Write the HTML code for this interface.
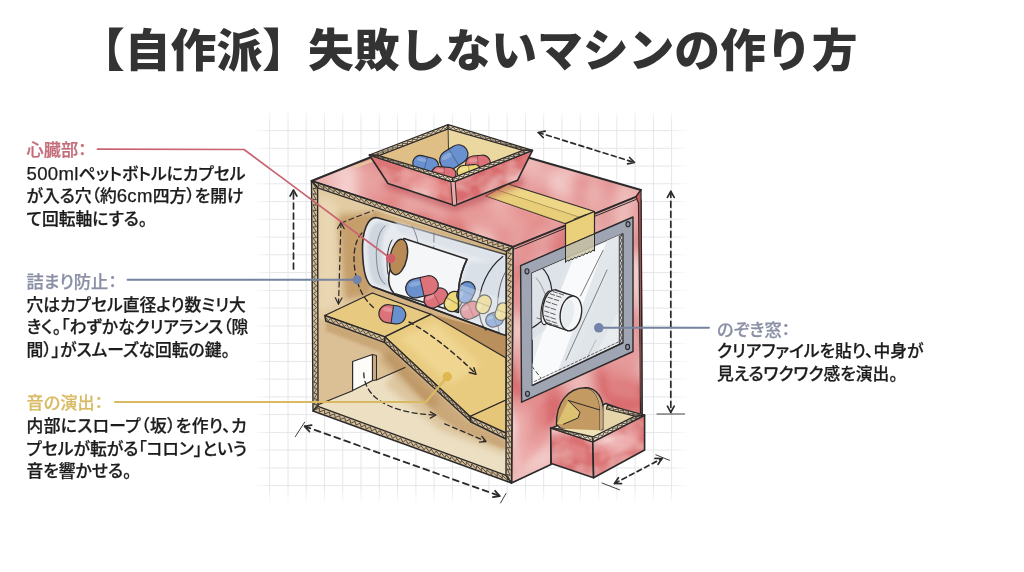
<!DOCTYPE html>
<html lang="ja">
<head>
<meta charset="utf-8">
<title>【自作派】失敗しないマシンの作り方</title>
<style>
html,body{margin:0;padding:0;}
body{width:1024px;height:572px;background:#fff;position:relative;overflow:hidden;
 font-family:"Liberation Sans","Noto Sans CJK JP",sans-serif;color:#1a1a1a;}
h1{position:absolute;left:79px;top:17px;margin:0;font-size:45.8px;line-height:70px;font-weight:900;color:#333;white-space:nowrap;letter-spacing:0;filter:blur(.35px);}
.blk{position:absolute;font-size:16.8px;line-height:22.5px;font-weight:500;white-space:nowrap;font-feature-settings:"palt";color:#1c1c1c;-webkit-text-stroke:.25px currentColor;filter:blur(.3px);}
.blk .l{font-size:18.6px;letter-spacing:.3px;line-height:0;}
.blk .h{display:block;font-weight:500;font-size:17.2px;}
.c1{color:#c46d79;} .c2{color:#8a8fa6;} .c3{color:#d9bc66;}
#art{position:absolute;left:0;top:0;width:1024px;height:572px;}
</style>
</head>
<body>
<svg id="art" viewBox="0 0 1024 572">
<defs>
<linearGradient id="gfx" x1="0" x2="1" y1="0" y2="0"><stop offset="0" stop-color="#000"/><stop offset=".045" stop-color="#fff"/><stop offset=".95" stop-color="#fff"/><stop offset="1" stop-color="#000"/></linearGradient>
<linearGradient id="gfy" x1="0" x2="0" y1="0" y2="1"><stop offset="0" stop-color="#000"/><stop offset=".04" stop-color="#fff"/><stop offset=".96" stop-color="#fff"/><stop offset="1" stop-color="#000"/></linearGradient>
<mask id="mv"><rect x="250" y="108" width="445" height="396" fill="url(#gfy)"/></mask>
<mask id="mh"><rect x="252" y="100" width="438" height="410" fill="url(#gfx)"/></mask>
<filter id="soft" x="-5%" y="-5%" width="110%" height="110%"><feGaussianBlur stdDeviation="0.45"/></filter>
<filter id="b3" x="-30%" y="-30%" width="160%" height="160%"><feGaussianBlur stdDeviation="3"/></filter>
<filter id="b6" x="-30%" y="-30%" width="160%" height="160%"><feGaussianBlur stdDeviation="6"/></filter>
<filter id="b15" x="-30%" y="-30%" width="160%" height="160%"><feGaussianBlur stdDeviation="1.5"/></filter>
<filter id="wc" x="0" y="0" width="100%" height="100%"><feTurbulence type="fractalNoise" baseFrequency="0.022 0.016" numOctaves="2" seed="7" result="n"/><feColorMatrix in="n" type="matrix" values="0 0 0 0 .93  0 0 0 0 .68  0 0 0 0 .66  1.8 0 0 0 -0.5" result="m"/><feComposite in="m" in2="SourceGraphic" operator="in" result="ov"/><feMerge><feMergeNode in="SourceGraphic"/><feMergeNode in="ov"/></feMerge></filter>
<filter id="wc2" x="0" y="0" width="100%" height="100%"><feTurbulence type="fractalNoise" baseFrequency="0.03 0.04" numOctaves="3" seed="11" result="n"/><feColorMatrix in="n" type="matrix" values="0 0 0 0 .93  0 0 0 0 .68  0 0 0 0 .66  1.6 0 0 0 -0.62" result="m"/><feComposite in="m" in2="SourceGraphic" operator="in" result="ov"/><feMerge><feMergeNode in="SourceGraphic"/><feMergeNode in="ov"/></feMerge></filter>
</defs>
<g stroke="#e4e6e9" stroke-width="1" fill="none">
<g mask="url(#mv)">
<line x1="269.7" y1="108" x2="269.7" y2="504"/>
<line x1="288.0" y1="108" x2="288.0" y2="504"/>
<line x1="306.2" y1="108" x2="306.2" y2="504"/>
<line x1="324.5" y1="108" x2="324.5" y2="504"/>
<line x1="342.8" y1="108" x2="342.8" y2="504"/>
<line x1="361.0" y1="108" x2="361.0" y2="504"/>
<line x1="379.3" y1="108" x2="379.3" y2="504"/>
<line x1="397.6" y1="108" x2="397.6" y2="504"/>
<line x1="415.9" y1="108" x2="415.9" y2="504"/>
<line x1="434.1" y1="108" x2="434.1" y2="504"/>
<line x1="452.4" y1="108" x2="452.4" y2="504"/>
<line x1="470.7" y1="108" x2="470.7" y2="504"/>
<line x1="488.9" y1="108" x2="488.9" y2="504"/>
<line x1="507.2" y1="108" x2="507.2" y2="504"/>
<line x1="525.5" y1="108" x2="525.5" y2="504"/>
<line x1="543.7" y1="108" x2="543.7" y2="504"/>
<line x1="562.0" y1="108" x2="562.0" y2="504"/>
<line x1="580.3" y1="108" x2="580.3" y2="504"/>
<line x1="598.6" y1="108" x2="598.6" y2="504"/>
<line x1="616.8" y1="108" x2="616.8" y2="504"/>
<line x1="635.1" y1="108" x2="635.1" y2="504"/>
<line x1="653.4" y1="108" x2="653.4" y2="504"/>
<line x1="671.6" y1="108" x2="671.6" y2="504"/>
</g><g mask="url(#mh)">
<line x1="252" y1="130.6" x2="690" y2="130.6"/>
<line x1="252" y1="148.3" x2="690" y2="148.3"/>
<line x1="252" y1="166.1" x2="690" y2="166.1"/>
<line x1="252" y1="183.8" x2="690" y2="183.8"/>
<line x1="252" y1="201.6" x2="690" y2="201.6"/>
<line x1="252" y1="219.3" x2="690" y2="219.3"/>
<line x1="252" y1="237.1" x2="690" y2="237.1"/>
<line x1="252" y1="254.8" x2="690" y2="254.8"/>
<line x1="252" y1="272.6" x2="690" y2="272.6"/>
<line x1="252" y1="290.4" x2="690" y2="290.4"/>
<line x1="252" y1="308.1" x2="690" y2="308.1"/>
<line x1="252" y1="325.9" x2="690" y2="325.9"/>
<line x1="252" y1="343.6" x2="690" y2="343.6"/>
<line x1="252" y1="361.4" x2="690" y2="361.4"/>
<line x1="252" y1="379.1" x2="690" y2="379.1"/>
<line x1="252" y1="396.9" x2="690" y2="396.9"/>
<line x1="252" y1="414.6" x2="690" y2="414.6"/>
<line x1="252" y1="432.4" x2="690" y2="432.4"/>
<line x1="252" y1="450.1" x2="690" y2="450.1"/>
<line x1="252" y1="467.9" x2="690" y2="467.9"/>
<line x1="252" y1="485.6" x2="690" y2="485.6"/>
</g></g>
<g filter="url(#soft)">
<polygon points="311.5,181.0 436.0,131.0 641.0,190.0 636.0,197.0 513.0,247.0" fill="#de7b7d" stroke="none" filter="url(#wc)"/>
<polygon points="311.5,181.0 436.0,131.0 641.0,190.0 636.0,197.0 513.0,247.0" fill="none" stroke="#2c2a2a" stroke-width="1.9" stroke-linejoin="round"/>
<polygon points="352.0,166.5 371.0,159.5 375.0,161.0 356.0,168.0" fill="#e3c79c" opacity=".9"/>
<g opacity=".55" filter="url(#b6)"><polygon points="350.0,185.0 420.0,160.0 520.0,190.0 600.0,205.0 520.0,232.0 430.0,215.0" fill="#ecaaa6"/></g>
<polygon points="317.6,187.8 506.5,251.3 506.0,475.3 318.0,406.3" fill="#e2cba3" stroke="none" stroke-width="1.5" stroke-linejoin="round" />
<polygon points="373.0,210.0 506.5,251.3 506.0,362.0 431.0,314.0 372.0,293.0" fill="#d3b283"/>
<g filter="url(#b3)" opacity=".9"><polygon points="319.0,196.0 337.0,202.0 337.0,306.0 319.0,312.0" fill="#ead8b4"/></g>
<g filter="url(#b3)" opacity=".9"><polygon points="338.0,215.0 380.0,212.0 372.0,295.0 345.0,300.0" fill="#c29a66"/></g>
<polygon points="318.0,318.0 326.0,321.0 385.0,342.0 430.0,390.0 404.0,368.0 352.0,391.0 318.3,404.5" fill="#dbc096"/>
<polygon points="318.0,406.3 352.0,391.0 404.0,367.5 432.0,392.0 468.0,424.0 506.0,440.0 506.0,475.3" fill="#ecdfc2"/>
<g filter="url(#b3)" opacity=".8"><polygon points="395.0,372.0 430.0,395.0 468.0,426.0 506.0,442.0 506.0,455.0 440.0,430.0 385.0,385.0" fill="#d9c096"/></g>
<polygon points="431.0,314.0 500.0,333.0 506.0,335.0 506.0,358.0" fill="#b98f5c"/>
<g filter="url(#b15)" opacity=".85"><polygon points="326.0,321.0 385.0,342.0 468.0,421.0 506.0,439.0 506.0,450.0 462.0,432.0 440.0,418.0 380.0,352.0 326.0,331.0" fill="#c7a372"/></g>
<g filter="url(#b3)" opacity=".6"><polygon points="390.0,350.0 440.0,400.0 432.0,410.0 380.0,360.0" fill="#b98f5c"/></g>
<polygon points="352.6,361.5 372.5,354.5 372.5,380.5 352.6,390.5" fill="#fdfcf8" stroke="#2c2a2a" stroke-width="1.2" stroke-linejoin="round" />
<polygon points="372.5,354.5 376.5,355.5 376.5,380.0 372.5,380.5" fill="#c8a984" stroke="#2c2a2a" stroke-width="1" stroke-linejoin="round" />
<line x1="318.5" y1="404.5" x2="352.6" y2="390.8" stroke="#2c2a2a" stroke-width="1.2" stroke-linecap="round" />
<line x1="376.5" y1="380.0" x2="405.0" y2="367.5" stroke="#2c2a2a" stroke-width="1.2" stroke-linecap="round" />
<polygon points="324.8,315.5 372.3,293.0 431.0,314.3 384.8,336.8" fill="#e7c97f" stroke="#2c2a2a" stroke-width="1.3" stroke-linejoin="round" />
<polygon points="384.8,336.8 431.0,314.3 506.0,358.0 506.0,400.0 470.0,416.5" fill="#e9cb80" stroke="#2c2a2a" stroke-width="1.3" stroke-linejoin="round" />
<polygon points="470.0,416.5 506.0,400.0 506.0,433.5 471.0,421.0" fill="#e6c678" stroke="#2c2a2a" stroke-width="1.2" stroke-linejoin="round" />
<g filter="url(#b3)" opacity=".6"><polygon points="400.0,338.0 436.0,322.0 480.0,365.0 450.0,385.0" fill="#f3dd9c"/></g>
<polygon points="324.8,315.5 384.8,336.8 384.3,342.3 325.8,321.0" fill="#d6c09c" stroke="#2c2a2a" stroke-width="1.4" stroke-linejoin="round" />
<polyline points="325.0,316.7 328.3,320.8 330.4,318.6 333.6,322.7 335.9,320.6 339.0,324.6 341.3,322.5 344.3,326.6 346.7,324.5 349.6,328.5 352.1,326.4 355.0,330.4 357.6,328.3 360.3,332.4 363.0,330.3 365.7,334.3 368.4,332.2 371.0,336.2 373.8,334.1 376.4,338.2 379.3,336.1 381.7,340.1 384.7,338.0" fill="none" stroke="#3f352c" stroke-width="0.85" stroke-linejoin="round"/>
<polygon points="384.8,336.8 470.0,416.5 471.0,422.0 384.3,342.3" fill="#d6c09c" stroke="#2c2a2a" stroke-width="1.4" stroke-linejoin="round" />
<polyline points="384.7,338.0 386.5,343.0 388.9,341.9 390.7,346.9 393.0,345.8 394.9,350.8 397.2,349.7 399.2,354.7 401.4,353.6 403.4,358.6 405.6,357.4 407.6,362.5 409.7,361.3 411.8,366.4 413.9,365.2 416.0,370.2 418.1,369.1 420.2,374.1 422.2,373.0 424.4,378.0 426.4,376.9 428.6,381.9 430.6,380.8 432.9,385.8 434.8,384.7 437.1,389.7 438.9,388.6 441.3,393.6 443.1,392.4 445.5,397.5 447.3,396.3 449.7,401.4 451.4,400.2 453.9,405.2 455.6,404.1 458.1,409.1 459.8,408.0 462.4,413.0 464.0,411.9 466.6,416.9 468.1,415.8 470.8,420.8" fill="none" stroke="#3f352c" stroke-width="0.85" stroke-linejoin="round"/>
<polygon points="470.0,416.5 506.0,433.0 506.0,439.0 471.0,422.0" fill="#d6c09c" stroke="#2c2a2a" stroke-width="1.4" stroke-linejoin="round" />
<polyline points="470.2,417.7 473.3,422.0 475.3,420.1 478.3,424.4 480.4,422.5 483.4,426.8 485.6,424.8 488.4,429.2 490.7,427.2 493.4,431.6 495.8,429.6 498.5,434.1 500.9,431.9 503.5,436.5 506.0,434.3" fill="none" stroke="#3f352c" stroke-width="0.85" stroke-linejoin="round"/>
<path d="M377.5,217.8 C368,216 362,231 362.5,251 C363,270 366,284 373,286.8 L500,333.5 L506,335.5 L506,254.8 Z" fill="#e7ebf0" stroke="#2c2a2a" stroke-width="1.6" stroke-linecap="round" stroke-linejoin="round" />
<g filter="url(#b15)"><path d="M378,222 C370,224 367,240 368,255 C369,270 371,280 376,284 L392,289 C384,278 381,262 382,246 C383,234 386,226 392,224 Z" fill="#ccd4dd" opacity=".9"/>
<path d="M395,221.5 L505,256 L505,267 L398,232 Z" fill="#dce2e9" opacity=".9"/>
<path d="M470,262 C462,275 458,295 462,316 L505,332 L505,262 Z" fill="#d6dde6" opacity=".8"/></g>
<path d="M385,226 C377,232 375,250 377,265 C378,275 381,281 385,284" fill="none" stroke="#6b7078" stroke-width="0.8" stroke-linecap="round" stroke-linejoin="round" />
<path d="M412,226 C418,236 420,250 419,262" fill="none" stroke="#6b7078" stroke-width="0.8" stroke-linecap="round" stroke-linejoin="round" />
<path d="M434,233 L433.5,262" fill="none" stroke="#6b7078" stroke-width="0.8" stroke-linecap="round" stroke-linejoin="round" stroke-dasharray="9 4"/>
<path d="M404,238.5 L467,259.3 C463,267 459,280 458.6,290 L458.4,312.5 L394,293.5 C389,288 388,281 389,274 C392,261 399,246 404,238.5 Z" fill="#f4f6f8" stroke="#2c2a2a" stroke-width="1.6" stroke-linecap="round" stroke-linejoin="round" />
<path d="M502.8,256.5 C488,268 478,288 479,309 C479.5,318 482,326 486,330" fill="none" stroke="#2c2a2a" stroke-width="1.2" stroke-linecap="round" stroke-linejoin="round" />
<path d="M505.5,272 C498,284 495,310 499,332" fill="none" stroke="#555" stroke-width="0.9" stroke-linecap="round" stroke-linejoin="round" />
<g transform="translate(398.5,257) rotate(12)"><ellipse cx="0" cy="0" rx="8.5" ry="18" fill="#b98a55" stroke="#2c2a2a" stroke-width="1.4"/></g>
<path d="M392,240 C387,248 386,262 388,274" fill="none" stroke="#2c2a2a" stroke-width="1.0" stroke-linecap="round" stroke-linejoin="round" />
<g transform="translate(436.0,298.0) rotate(-28)">
<clipPath id="cp91"><rect x="-13.5" y="-9.0" width="13.5" height="18.0"/></clipPath>
<rect x="-12.5" y="-8.0" width="25.0" height="16.0" rx="8.0" fill="#de727a"/>
<rect x="-12.5" y="-8.0" width="25.0" height="16.0" rx="8.0" fill="#de727a" clip-path="url(#cp91)"/>
<ellipse cx="-4.5" cy="-3.6" rx="5.0" ry="2.0" fill="#fff" opacity=".22"/>
<rect x="-12.5" y="-8.0" width="25.0" height="16.0" rx="8.0" fill="none" stroke="#2c2a2a" stroke-width="1.2"/>
<line x1="0" y1="-8.0" x2="0" y2="8.0" stroke="#2c2a2a" stroke-width="0.96" opacity="0.35"/>
</g>
<g transform="translate(422.0,286.8) rotate(-13)">
<clipPath id="cp99"><rect x="-17.5" y="-10.5" width="17.5" height="21.0"/></clipPath>
<rect x="-16.5" y="-9.5" width="33.0" height="19.0" rx="9.5" fill="#de727a"/>
<rect x="-16.5" y="-9.5" width="33.0" height="19.0" rx="9.5" fill="#6990cf" clip-path="url(#cp99)"/>
<ellipse cx="-5.9" cy="-4.3" rx="6.6" ry="2.4" fill="#fff" opacity=".22"/>
<rect x="-16.5" y="-9.5" width="33.0" height="19.0" rx="9.5" fill="none" stroke="#2c2a2a" stroke-width="1.2"/>
<line x1="0" y1="-9.5" x2="0" y2="9.5" stroke="#2c2a2a" stroke-width="0.96" opacity="1"/>
</g>
<g transform="translate(453.3,301.5) rotate(-60)">
<clipPath id="cp107"><rect x="-11.5" y="-9.0" width="11.5" height="18.0"/></clipPath>
<rect x="-10.5" y="-8.0" width="21.0" height="16.0" rx="8.0" fill="#efd878"/>
<rect x="-10.5" y="-8.0" width="21.0" height="16.0" rx="8.0" fill="#efd878" clip-path="url(#cp107)"/>
<ellipse cx="-3.8" cy="-3.6" rx="4.2" ry="2.0" fill="#fff" opacity=".22"/>
<rect x="-10.5" y="-8.0" width="21.0" height="16.0" rx="8.0" fill="none" stroke="#2c2a2a" stroke-width="1.2"/>
<line x1="0" y1="-8.0" x2="0" y2="8.0" stroke="#2c2a2a" stroke-width="0.96" opacity="0.35"/>
</g>
<g transform="translate(466.0,292.3) rotate(-65)">
<clipPath id="cp115"><rect x="-12.0" y="-9.0" width="12.0" height="18.0"/></clipPath>
<rect x="-11.0" y="-8.0" width="22.0" height="16.0" rx="8.0" fill="#6990cf"/>
<rect x="-11.0" y="-8.0" width="22.0" height="16.0" rx="8.0" fill="#6990cf" clip-path="url(#cp115)"/>
<ellipse cx="-4.0" cy="-3.6" rx="4.4" ry="2.0" fill="#fff" opacity=".22"/>
<rect x="-11.0" y="-8.0" width="22.0" height="16.0" rx="8.0" fill="none" stroke="#2c2a2a" stroke-width="1.2"/>
<line x1="0" y1="-8.0" x2="0" y2="8.0" stroke="#2c2a2a" stroke-width="0.96" opacity="0.35"/>
</g>
<g transform="translate(470.7,310.2) rotate(-25)">
<clipPath id="cp123"><rect x="-11.5" y="-9.0" width="11.5" height="18.0"/></clipPath>
<rect x="-10.5" y="-8.0" width="21.0" height="16.0" rx="8.0" fill="#de727a"/>
<rect x="-10.5" y="-8.0" width="21.0" height="16.0" rx="8.0" fill="#de727a" clip-path="url(#cp123)"/>
<ellipse cx="-3.8" cy="-3.6" rx="4.2" ry="2.0" fill="#fff" opacity=".22"/>
<rect x="-10.5" y="-8.0" width="21.0" height="16.0" rx="8.0" fill="none" stroke="#2c2a2a" stroke-width="1.2"/>
<line x1="0" y1="-8.0" x2="0" y2="8.0" stroke="#2c2a2a" stroke-width="0.96" opacity="0.35"/>
</g>
<g transform="translate(483.6,304.3) rotate(-70)">
<clipPath id="cp131"><rect x="-10.5" y="-8.0" width="10.5" height="16.0"/></clipPath>
<rect x="-9.5" y="-7.0" width="19.0" height="14.0" rx="7.0" fill="#efd878"/>
<rect x="-9.5" y="-7.0" width="19.0" height="14.0" rx="7.0" fill="#efd878" clip-path="url(#cp131)"/>
<ellipse cx="-3.4" cy="-3.1" rx="3.8" ry="1.8" fill="#fff" opacity=".22"/>
<rect x="-9.5" y="-7.0" width="19.0" height="14.0" rx="7.0" fill="none" stroke="#2c2a2a" stroke-width="1.2"/>
<line x1="0" y1="-7.0" x2="0" y2="7.0" stroke="#2c2a2a" stroke-width="0.96" opacity="0.35"/>
</g>
<g transform="translate(494.6,319.5) rotate(-20)">
<clipPath id="cp139"><rect x="-10.0" y="-8.0" width="10.0" height="16.0"/></clipPath>
<rect x="-9.0" y="-7.0" width="18.0" height="14.0" rx="7.0" fill="#6990cf"/>
<rect x="-9.0" y="-7.0" width="18.0" height="14.0" rx="7.0" fill="#6990cf" clip-path="url(#cp139)"/>
<ellipse cx="-3.2" cy="-3.1" rx="3.6" ry="1.8" fill="#fff" opacity=".22"/>
<rect x="-9.0" y="-7.0" width="18.0" height="14.0" rx="7.0" fill="none" stroke="#2c2a2a" stroke-width="1.2"/>
<line x1="0" y1="-7.0" x2="0" y2="7.0" stroke="#2c2a2a" stroke-width="0.96" opacity="0.35"/>
</g>
<g transform="translate(502.0,311.6) rotate(-70)">
<clipPath id="cp147"><rect x="-10.0" y="-7.0" width="10.0" height="14.0"/></clipPath>
<rect x="-9.0" y="-6.0" width="18.0" height="12.0" rx="6.0" fill="#efd878"/>
<rect x="-9.0" y="-6.0" width="18.0" height="12.0" rx="6.0" fill="#efd878" clip-path="url(#cp147)"/>
<ellipse cx="-3.2" cy="-2.7" rx="3.6" ry="1.5" fill="#fff" opacity=".22"/>
<rect x="-9.0" y="-6.0" width="18.0" height="12.0" rx="6.0" fill="none" stroke="#2c2a2a" stroke-width="1.2"/>
<line x1="0" y1="-6.0" x2="0" y2="6.0" stroke="#2c2a2a" stroke-width="0.96" opacity="0.35"/>
</g>
<path d="M459,284 L505,300 L505,334 L458.4,316 Z" fill="#eceff3" opacity=".4"/>
<path d="M458.6,290 L458.4,312.5" fill="none" stroke="#2c2a2a" stroke-width="1.5" stroke-linecap="round" stroke-linejoin="round" />
<path d="M467,259.3 C463,267 459,280 458.6,290" fill="none" stroke="#2c2a2a" stroke-width="1.5" stroke-linecap="round" stroke-linejoin="round" />
<path d="M373,286.8 L500,333.5" fill="none" stroke="#2c2a2a" stroke-width="1.6" stroke-linecap="round" stroke-linejoin="round" />
<g transform="translate(392.3,314.3) rotate(8)">
<clipPath id="cp159"><rect x="-14.5" y="-10.0" width="14.5" height="20.0"/></clipPath>
<rect x="-13.5" y="-9.0" width="27.0" height="18.0" rx="9.0" fill="#6990cf"/>
<rect x="-13.5" y="-9.0" width="27.0" height="18.0" rx="9.0" fill="#de727a" clip-path="url(#cp159)"/>
<ellipse cx="-4.9" cy="-4.0" rx="5.4" ry="2.2" fill="#fff" opacity=".22"/>
<rect x="-13.5" y="-9.0" width="27.0" height="18.0" rx="9.0" fill="none" stroke="#2c2a2a" stroke-width="1.2"/>
<line x1="0" y1="-9.0" x2="0" y2="9.0" stroke="#2c2a2a" stroke-width="0.96" opacity="1"/>
</g>
<polygon points="311.5,181.0 513.0,247.0 506.5,251.3 317.6,187.8" fill="#d6c09c" stroke="#2c2a2a" stroke-width="1.4" stroke-linejoin="round" />
<polyline points="312.8,182.5 318.8,187.2 318.1,184.2 323.9,188.9 323.4,186.0 329.0,190.6 328.7,187.7 334.1,192.3 334.0,189.5 339.3,194.0 339.3,191.2 344.4,195.7 344.6,193.0 349.5,197.4 349.9,194.7 354.6,199.1 355.2,196.5 359.7,200.8 360.5,198.2 364.8,202.5 365.8,199.9 369.9,204.2 371.1,201.7 375.0,205.9 376.4,203.4 380.1,207.7 381.7,205.2 385.3,209.4 387.0,206.9 390.4,211.1 392.3,208.7 395.5,212.8 397.6,210.4 400.6,214.5 402.9,212.2 405.7,216.2 408.2,213.9 410.8,217.9 413.5,215.7 415.9,219.6 418.8,217.4 421.0,221.3 424.1,219.1 426.1,223.0 429.4,220.9 431.3,224.7 434.7,222.6 436.4,226.4 440.0,224.4 441.5,228.2 445.3,226.1 446.6,229.9 450.6,227.9 451.7,231.6 455.9,229.6 456.8,233.3 461.2,231.4 461.9,235.0 466.5,233.1 467.0,236.7 471.8,234.9 472.2,238.4 477.1,236.6 477.3,240.1 482.4,238.3 482.4,241.8 487.7,240.1 487.5,243.5 493.0,241.8 492.6,245.2 498.3,243.6 497.7,246.9 503.6,245.3 502.8,248.6 508.9,247.1 507.9,250.4" fill="none" stroke="#3f352c" stroke-width="0.85" stroke-linejoin="round"/>
<polygon points="311.5,181.0 313.0,411.0 318.0,406.3 317.6,187.8" fill="#d6c09c" stroke="#2c2a2a" stroke-width="1.4" stroke-linejoin="round" />
<polyline points="312.8,182.5 316.3,189.0 312.9,188.0 316.3,194.4 312.9,193.6 316.3,199.8 312.9,199.1 316.3,205.2 313.0,204.7 316.3,210.6 313.0,210.2 316.3,216.0 313.0,215.8 316.4,221.3 313.1,221.3 316.4,226.7 313.1,226.9 316.4,232.1 313.1,232.4 316.4,237.5 313.1,238.0 316.4,242.9 313.2,243.5 316.4,248.3 313.2,249.1 316.5,253.7 313.2,254.6 316.5,259.1 313.3,260.2 316.5,264.5 313.3,265.7 316.5,269.9 313.3,271.3 316.5,275.3 313.4,276.8 316.5,280.6 313.4,282.4 316.5,286.0 313.4,287.9 316.6,291.4 313.5,293.5 316.6,296.8 313.5,299.0 316.6,302.2 313.5,304.6 316.6,307.6 313.5,310.1 316.6,313.0 313.6,315.6 316.6,318.4 313.6,321.2 316.7,323.8 313.6,326.7 316.7,329.2 313.7,332.3 316.7,334.6 313.7,337.8 316.7,339.9 313.7,343.4 316.7,345.3 313.8,348.9 316.7,350.7 313.8,354.5 316.8,356.1 313.8,360.0 316.8,361.5 313.9,365.6 316.8,366.9 313.9,371.1 316.8,372.3 313.9,376.7 316.8,377.7 313.9,382.2 316.8,383.1 314.0,387.8 316.8,388.5 314.0,393.3 316.9,393.9 314.0,398.9 316.9,399.2 314.1,404.4 316.9,404.6 314.1,410.0" fill="none" stroke="#3f352c" stroke-width="0.85" stroke-linejoin="round"/>
<polygon points="313.0,411.0 511.5,483.0 506.0,475.3 318.0,406.3" fill="#d6c09c" stroke="#2c2a2a" stroke-width="1.4" stroke-linejoin="round" />
<polyline points="314.1,410.0 319.4,408.3 319.3,411.9 324.5,410.1 324.6,413.8 329.6,412.0 329.8,415.7 334.7,413.8 335.0,417.6 339.7,415.7 340.3,419.5 344.8,417.6 345.5,421.4 349.9,419.4 350.7,423.3 355.0,421.3 356.0,425.2 360.0,423.1 361.2,427.1 365.1,425.0 366.4,429.0 370.2,426.8 371.6,430.9 375.3,428.7 376.9,432.8 380.3,430.6 382.1,434.7 385.4,432.4 387.3,436.6 390.5,434.3 392.6,438.5 395.6,436.1 397.8,440.4 400.6,438.0 403.0,442.3 405.7,439.8 408.3,444.2 410.8,441.7 413.5,446.1 415.9,443.6 418.7,448.0 420.9,445.4 424.0,449.9 426.0,447.3 429.2,451.8 431.1,449.1 434.4,453.7 436.2,451.0 439.7,455.6 441.2,452.8 444.9,457.5 446.3,454.7 450.1,459.4 451.4,456.6 455.4,461.3 456.5,458.4 460.6,463.2 461.5,460.3 465.8,465.1 466.6,462.1 471.1,467.0 471.7,464.0 476.3,468.9 476.8,465.8 481.5,470.8 481.8,467.7 486.7,472.7 486.9,469.6 492.0,474.6 492.0,471.4 497.2,476.6 497.1,473.3 502.4,478.5 502.1,475.1 507.7,480.4 507.2,477.0" fill="none" stroke="#3f352c" stroke-width="0.85" stroke-linejoin="round"/>
<polygon points="513.0,247.0 636.0,197.0 640.8,200.0 641.5,300.0 642.0,417.0 606.0,403.5 551.0,428.5 551.0,464.5 511.5,483.0" fill="#d96d6f" stroke="none" filter="url(#wc)"/>
<polygon points="513.0,247.0 636.0,197.0 640.8,200.0 641.5,300.0 642.0,417.0 606.0,403.5 551.0,428.5 551.0,464.5 511.5,483.0" fill="none" stroke="#2c2a2a" stroke-width="1.8" stroke-linejoin="round"/>
<polygon points="636.0,197.0 641.0,190.0 641.5,300.0 642.0,417.0 640.5,416.0 639.5,300.0 638.5,203.0" fill="#c95a5f" stroke="#2c2a2a" stroke-width="1.2" stroke-linejoin="round" />
<g filter="url(#b3)" opacity=".55"><polygon points="516.0,400.0 545.0,395.0 548.0,440.0 520.0,470.0" fill="#e99a9a"/><polygon points="600.0,360.0 638.0,345.0 638.0,400.0 610.0,395.0" fill="#e58f90"/><polygon points="516.0,250.0 560.0,235.0 560.0,245.0 516.0,262.0" fill="#e58f90"/></g>
<polygon points="513.0,247.0 511.5,483.0 506.0,475.3 506.5,251.3" fill="#d6c09c" stroke="#2c2a2a" stroke-width="1.4" stroke-linejoin="round" />
<polyline points="511.6,247.9 507.9,253.1 511.5,253.5 507.9,258.4 511.5,259.1 507.9,263.8 511.5,264.6 507.9,269.2 511.4,270.2 507.9,274.6 511.4,275.7 507.8,280.0 511.4,281.3 507.8,285.4 511.4,286.8 507.8,290.8 511.3,292.4 507.8,296.2 511.3,298.0 507.8,301.6 511.3,303.5 507.8,307.0 511.2,309.1 507.7,312.4 511.2,314.6 507.7,317.8 511.2,320.2 507.7,323.2 511.1,325.7 507.7,328.6 511.1,331.3 507.7,334.0 511.1,336.8 507.6,339.4 511.1,342.4 507.6,344.8 511.0,348.0 507.6,350.2 511.0,353.5 507.6,355.6 511.0,359.1 507.6,361.0 510.9,364.6 507.6,366.4 510.9,370.2 507.5,371.8 510.9,375.7 507.5,377.2 510.8,381.3 507.5,382.6 510.8,386.9 507.5,388.0 510.8,392.4 507.5,393.4 510.7,398.0 507.5,398.7 510.7,403.5 507.4,404.1 510.7,409.1 507.4,409.5 510.7,414.6 507.4,414.9 510.6,420.2 507.4,420.3 510.6,425.7 507.4,425.7 510.6,431.3 507.4,431.1 510.5,436.9 507.3,436.5 510.5,442.4 507.3,441.9 510.5,448.0 507.3,447.3 510.4,453.5 507.3,452.7 510.4,459.1 507.3,458.1 510.4,464.6 507.3,463.5 510.4,470.2 507.2,468.9 510.3,475.7 507.2,474.3 510.3,481.3" fill="none" stroke="#3f352c" stroke-width="0.85" stroke-linejoin="round"/>
<line x1="514.5" y1="249.0" x2="636.0" y2="199.5" stroke="#2c2a2a" stroke-width="1.0" stroke-linecap="round" />
<polygon points="520.6,265.6 633.0,217.0 633.0,351.5 521.6,402.2" fill="#9fa5b3" stroke="#2c2a2a" stroke-width="1.4" stroke-linejoin="round" />
<polygon points="532.0,273.0 622.8,233.8 622.8,342.8 532.3,385.3" fill="#e8ecef" stroke="#2c2a2a" stroke-width="1.3" stroke-linejoin="round" />
<clipPath id="gclip"><polygon points="532.0,273.0 622.8,233.8 622.8,342.8 532.3,385.3"/></clipPath><g clip-path="url(#gclip)">
<polygon points="575,240 625,225 560,400 520,400" fill="#ffffff" opacity=".75"/>
<polygon points="610,232 625,232 625,300 575,392 550,392" fill="#dfe4e9" opacity=".9"/>
<polygon points="532,273 575,254 545,330 532,340" fill="#dde2e8" opacity=".9"/>
<path d="M540,266 C548,272 551,282 552,291" fill="none" stroke="#2c2a2a" stroke-width="1.2" stroke-linecap="round" stroke-linejoin="round" />
<path d="M536,278 C541,283 543,289 545,294" fill="none" stroke="#777" stroke-width="0.7" stroke-linecap="round" stroke-linejoin="round" />
<path d="M524,331.5 C532,329 537,325 541,321.5" fill="none" stroke="#2c2a2a" stroke-width="1.2" stroke-linecap="round" stroke-linejoin="round" />
<path d="M537,318 L542,319.5" fill="none" stroke="#555" stroke-width="0.8" stroke-linecap="round" stroke-linejoin="round" />
<g transform="translate(547,307.8) rotate(10)"><ellipse cx="0" cy="0" rx="5.5" ry="17" fill="#eef0f2" stroke="#2c2a2a" stroke-width="1.2"/></g>
<g transform="translate(552.5,307.2) rotate(10)"><ellipse cx="0" cy="0" rx="9.5" ry="17.6" fill="#e9ecef" stroke="#2c2a2a" stroke-width="1.3"/></g>
<polygon points="555.5,289.9 574,296.1 567.8,330.7 549.3,324.4" fill="#eceef1"/>
<line x1="555.5" y1="289.8" x2="574.0" y2="296.1" stroke="#2c2a2a" stroke-width="1.3" stroke-linecap="round" />
<line x1="549.3" y1="324.5" x2="567.8" y2="330.7" stroke="#2c2a2a" stroke-width="1.3" stroke-linecap="round" />
<line x1="549.9" y1="324.6" x2="554.1" y2="326.0" stroke="#3a3a3a" stroke-width="0.8" stroke-linecap="round" />
<line x1="547.7" y1="322.7" x2="551.9" y2="324.1" stroke="#3a3a3a" stroke-width="0.8" stroke-linecap="round" />
<line x1="546.0" y1="319.6" x2="550.2" y2="321.0" stroke="#3a3a3a" stroke-width="0.8" stroke-linecap="round" />
<line x1="544.9" y1="315.6" x2="549.1" y2="317.0" stroke="#3a3a3a" stroke-width="0.8" stroke-linecap="round" />
<line x1="544.7" y1="311.1" x2="548.9" y2="312.4" stroke="#3a3a3a" stroke-width="0.8" stroke-linecap="round" />
<line x1="545.1" y1="306.2" x2="549.3" y2="307.6" stroke="#3a3a3a" stroke-width="0.8" stroke-linecap="round" />
<line x1="546.3" y1="301.5" x2="550.5" y2="302.9" stroke="#3a3a3a" stroke-width="0.8" stroke-linecap="round" />
<line x1="548.2" y1="297.3" x2="552.4" y2="298.7" stroke="#3a3a3a" stroke-width="0.8" stroke-linecap="round" />
<line x1="550.5" y1="293.9" x2="554.7" y2="295.3" stroke="#3a3a3a" stroke-width="0.8" stroke-linecap="round" />
<line x1="553.1" y1="291.6" x2="557.3" y2="292.9" stroke="#3a3a3a" stroke-width="0.8" stroke-linecap="round" />
<line x1="555.9" y1="290.5" x2="560.1" y2="291.9" stroke="#3a3a3a" stroke-width="0.8" stroke-linecap="round" />
<line x1="555.9" y1="326.6" x2="560.4" y2="328.1" stroke="#3a3a3a" stroke-width="0.8" stroke-linecap="round" />
<line x1="553.7" y1="324.7" x2="558.2" y2="326.2" stroke="#3a3a3a" stroke-width="0.8" stroke-linecap="round" />
<line x1="552.0" y1="321.6" x2="556.5" y2="323.1" stroke="#3a3a3a" stroke-width="0.8" stroke-linecap="round" />
<line x1="550.9" y1="317.6" x2="555.4" y2="319.1" stroke="#3a3a3a" stroke-width="0.8" stroke-linecap="round" />
<line x1="550.7" y1="313.0" x2="555.2" y2="314.5" stroke="#3a3a3a" stroke-width="0.8" stroke-linecap="round" />
<line x1="551.1" y1="308.2" x2="555.6" y2="309.7" stroke="#3a3a3a" stroke-width="0.8" stroke-linecap="round" />
<line x1="552.3" y1="303.5" x2="556.8" y2="305.0" stroke="#3a3a3a" stroke-width="0.8" stroke-linecap="round" />
<line x1="554.2" y1="299.3" x2="558.7" y2="300.7" stroke="#3a3a3a" stroke-width="0.8" stroke-linecap="round" />
<line x1="556.5" y1="295.9" x2="561.0" y2="297.3" stroke="#3a3a3a" stroke-width="0.8" stroke-linecap="round" />
<line x1="559.1" y1="293.5" x2="563.6" y2="295.0" stroke="#3a3a3a" stroke-width="0.8" stroke-linecap="round" />
<line x1="561.9" y1="292.5" x2="566.4" y2="294.0" stroke="#3a3a3a" stroke-width="0.8" stroke-linecap="round" />
<g transform="translate(570.9,313.4) rotate(10)"><ellipse cx="0" cy="0" rx="10.5" ry="17.6" fill="#f6f7f8" stroke="#2c2a2a" stroke-width="1.4"/><ellipse cx="-3" cy="1" rx="6" ry="14" fill="#e4e8ec" opacity=".8"/></g>
<line x1="603.0" y1="250.5" x2="580.5" y2="296.0" stroke="#555" stroke-width="0.8" stroke-linecap="round" />
<line x1="607.0" y1="270.0" x2="566.0" y2="360.0" stroke="#666" stroke-width="0.8" stroke-linecap="round" />
<line x1="596.0" y1="340.0" x2="585.0" y2="362.0" stroke="#999" stroke-width="0.6" stroke-linecap="round" />
<line x1="523.0" y1="355.0" x2="541.0" y2="378.0" stroke="#2c2a2a" stroke-width="0.9" stroke-linecap="round" stroke-dasharray="4 3"/>
</g>
<polygon points="622.8,233.8 622.8,342.8 619.3,344.5 619.3,236.0" fill="#c9ccd2" stroke="#2c2a2a" stroke-width="0.9" stroke-linejoin="round" />
<polyline points="622.0,234.3 620.1,238.4 622.0,240.0 620.1,244.1 622.0,245.7 620.1,249.8 622.0,251.5 620.1,255.5 622.0,257.2 620.1,261.2 622.0,262.9 620.1,267.0 622.0,268.7 620.1,272.7 622.0,274.4 620.1,278.4 622.0,280.1 620.1,284.1 622.0,285.9 620.1,289.8 622.0,291.6 620.1,295.5 622.0,297.3 620.1,301.3 622.0,303.1 620.1,307.0 622.0,308.8 620.1,312.7 622.0,314.5 620.1,318.4 622.0,320.2 620.1,324.1 622.0,326.0 620.1,329.8 622.0,331.7 620.1,335.6 622.0,337.4 620.1,341.3 622.0,343.2" fill="none" stroke="#3f352c" stroke-width="0.85" stroke-linejoin="round"/>
<line x1="532.3" y1="385.3" x2="622.8" y2="342.8" stroke="#2c2a2a" stroke-width="1.3" stroke-linecap="round" />
<line x1="534.5" y1="381.5" x2="619.3" y2="341.5" stroke="#2c2a2a" stroke-width="0.7" stroke-linecap="round" stroke-dasharray="2.5 2"/>
<ellipse cx="527" cy="271.3" rx="2" ry="2.6" fill="#8c93a2" stroke="#2c2a2a" stroke-width="1.1"/>
<ellipse cx="628" cy="224.2" rx="2" ry="2.6" fill="#8c93a2" stroke="#2c2a2a" stroke-width="1.1"/>
<ellipse cx="627.6" cy="347" rx="2" ry="2.6" fill="#8c93a2" stroke="#2c2a2a" stroke-width="1.1"/>
<ellipse cx="527.5" cy="393.8" rx="2" ry="2.6" fill="#8c93a2" stroke="#2c2a2a" stroke-width="1.1"/>
<polygon points="508.0,184.0 594.5,211.5 565.5,223.6 486.0,196.0" fill="#edd686" stroke="#2c2a2a" stroke-width="1.2" stroke-linejoin="round" />
<line x1="497.0" y1="190.0" x2="580.0" y2="217.5" stroke="#7a6a3a" stroke-width="0.8" stroke-linecap="round" />
<polygon points="486.0,196.0 565.5,223.6 580.0,217.5 497.0,190.0" fill="#e6c872" opacity=".6"/>
<polygon points="565.5,223.6 594.5,211.5 594.5,233.8 565.5,246.3" fill="#ebd07c" stroke="#2c2a2a" stroke-width="1.2" stroke-linejoin="round" />
<polygon points="565.5,246.3 594.5,233.8 594.5,251.0 592.7,250.2 590.9,252.4 589.0,251.7 587.2,253.9 585.4,253.1 583.6,255.3 581.8,254.6 580.0,256.8 578.2,256.0 576.4,258.2 574.5,257.4 572.8,259.6 570.9,258.9 569.1,261.1 567.3,260.3 565.5,262.5 565.5,262.5" fill="#c9c3a2" stroke="#2c2a2a" stroke-width="1.0" stroke-linejoin="round" fill-opacity=".8"/>
<line x1="574.0" y1="219.0" x2="586.0" y2="214.5" stroke="#2c2a2a" stroke-width="0.8" stroke-linecap="round" />
<g filter="url(#b3)" opacity=".55"><polygon points="380.0,186.0 455.0,212.0 525.0,184.0 520.0,176.0 455.0,200.0 392.0,180.0" fill="#b8454f"/></g>
<polygon points="369.4,155.0 452.8,182.2 454.7,205.6 388.0,183.5" fill="#dc7475" stroke="none" filter="url(#wc2)"/>
<polygon points="369.4,155.0 452.8,182.2 454.7,205.6 388.0,183.5" fill="none" stroke="#2c2a2a" stroke-width="1.6" stroke-linejoin="round"/>
<polygon points="452.8,182.2 532.5,150.3 517.5,180.3 454.7,205.6" fill="#d96c6e" stroke="none" filter="url(#wc2)"/>
<polygon points="452.8,182.2 532.5,150.3 517.5,180.3 454.7,205.6" fill="none" stroke="#2c2a2a" stroke-width="1.6" stroke-linejoin="round"/>
<g filter="url(#b15)" opacity=".5"><polygon points="400.0,170.0 448.0,186.0 450.0,198.0 400.0,182.0" fill="#eea0a0"/></g>
<polygon points="378.8,155.6 448.1,128.8 523.0,150.3 452.8,177.8" fill="#dfbf86" stroke="#2c2a2a" stroke-width="0" stroke-linejoin="round" />
<polygon points="448.1,128.8 523.0,150.3 452.8,177.8 448.5,160.0" fill="#ebd7a0"/>
<line x1="448.1" y1="128.8" x2="448.5" y2="150.0" stroke="#2c2a2a" stroke-width="0.9" stroke-linecap="round" />
<clipPath id="tclip"><polygon points="378.8,155.6 448.1,128.8 523.0,150.3 452.8,177.8"/></clipPath><g clip-path="url(#tclip)">
<g transform="translate(478.0,163.6) rotate(-5)">
<clipPath id="cp247"><rect x="-13.5" y="-9.0" width="13.5" height="18.0"/></clipPath>
<rect x="-12.5" y="-8.0" width="25.0" height="16.0" rx="8.0" fill="#de727a"/>
<rect x="-12.5" y="-8.0" width="25.0" height="16.0" rx="8.0" fill="#de727a" clip-path="url(#cp247)"/>
<ellipse cx="-4.5" cy="-3.6" rx="5.0" ry="2.0" fill="#fff" opacity=".22"/>
<rect x="-12.5" y="-8.0" width="25.0" height="16.0" rx="8.0" fill="none" stroke="#2c2a2a" stroke-width="1.2"/>
<line x1="0" y1="-8.0" x2="0" y2="8.0" stroke="#2c2a2a" stroke-width="0.96" opacity="0.35"/>
</g>
<g transform="translate(425.6,164.2) rotate(14)">
<clipPath id="cp255"><rect x="-14.0" y="-8.5" width="14.0" height="17.0"/></clipPath>
<rect x="-13.0" y="-7.5" width="26.0" height="15.0" rx="7.5" fill="#6990cf"/>
<rect x="-13.0" y="-7.5" width="26.0" height="15.0" rx="7.5" fill="#6990cf" clip-path="url(#cp255)"/>
<ellipse cx="-4.7" cy="-3.4" rx="5.2" ry="1.9" fill="#fff" opacity=".22"/>
<rect x="-13.0" y="-7.5" width="26.0" height="15.0" rx="7.5" fill="none" stroke="#2c2a2a" stroke-width="1.2"/>
<line x1="0" y1="-7.5" x2="0" y2="7.5" stroke="#2c2a2a" stroke-width="0.96" opacity="0.35"/>
</g>
<g transform="translate(453.8,157.2) rotate(-32)">
<clipPath id="cp263"><rect x="-16.0" y="-10.5" width="16.0" height="21.0"/></clipPath>
<rect x="-15.0" y="-9.5" width="30.0" height="19.0" rx="9.5" fill="#6990cf"/>
<rect x="-15.0" y="-9.5" width="30.0" height="19.0" rx="9.5" fill="#6990cf" clip-path="url(#cp263)"/>
<ellipse cx="-5.4" cy="-4.3" rx="6.0" ry="2.4" fill="#fff" opacity=".22"/>
<rect x="-15.0" y="-9.5" width="30.0" height="19.0" rx="9.5" fill="none" stroke="#2c2a2a" stroke-width="1.2"/>
<line x1="0" y1="-9.5" x2="0" y2="9.5" stroke="#2c2a2a" stroke-width="0.96" opacity="0.35"/>
</g>
<g transform="translate(469.0,171.5) rotate(-5)">
<clipPath id="cp271"><rect x="-13.0" y="-7.5" width="13.0" height="15.0"/></clipPath>
<rect x="-12.0" y="-6.5" width="24.0" height="13.0" rx="6.5" fill="#efd878"/>
<rect x="-12.0" y="-6.5" width="24.0" height="13.0" rx="6.5" fill="#efd878" clip-path="url(#cp271)"/>
<ellipse cx="-4.3" cy="-2.9" rx="4.8" ry="1.6" fill="#fff" opacity=".22"/>
<rect x="-12.0" y="-6.5" width="24.0" height="13.0" rx="6.5" fill="none" stroke="#2c2a2a" stroke-width="1.2"/>
<line x1="0" y1="-6.5" x2="0" y2="6.5" stroke="#2c2a2a" stroke-width="0.96" opacity="0.35"/>
</g>
<g transform="translate(444.0,173.5) rotate(5)">
<clipPath id="cp279"><rect x="-13.0" y="-7.5" width="13.0" height="15.0"/></clipPath>
<rect x="-12.0" y="-6.5" width="24.0" height="13.0" rx="6.5" fill="#de727a"/>
<rect x="-12.0" y="-6.5" width="24.0" height="13.0" rx="6.5" fill="#de727a" clip-path="url(#cp279)"/>
<ellipse cx="-4.3" cy="-2.9" rx="4.8" ry="1.6" fill="#fff" opacity=".22"/>
<rect x="-12.0" y="-6.5" width="24.0" height="13.0" rx="6.5" fill="none" stroke="#2c2a2a" stroke-width="1.2"/>
<line x1="0" y1="-6.5" x2="0" y2="6.5" stroke="#2c2a2a" stroke-width="0.96" opacity="0.35"/>
</g>
</g>
<polygon points="369.4,155.0 448.1,124.6 448.1,128.8 378.8,155.6" fill="#e6d5b4" stroke="#2c2a2a" stroke-width="1.3" stroke-linejoin="round" />
<polyline points="371.5,155.1 379.1,154.5 376.6,153.2 383.9,152.7 381.7,151.2 388.6,150.9 386.8,149.2 393.4,149.0 391.9,147.2 398.1,147.2 397.0,145.3 402.9,145.4 402.1,143.3 407.7,143.5 407.2,141.3 412.4,141.7 412.3,139.3 417.2,139.8 417.4,137.4 421.9,138.0 422.6,135.4 426.7,136.2 427.7,133.4 431.4,134.3 432.8,131.4 436.2,132.5 437.9,129.5 441.0,130.6 443.0,127.5 445.7,128.8 448.1,125.5" fill="none" stroke="#3f352c" stroke-width="0.85" stroke-linejoin="round"/>
<polygon points="448.1,124.6 532.5,150.3 523.0,150.3 448.1,128.8" fill="#e6d5b4" stroke="#2c2a2a" stroke-width="1.3" stroke-linejoin="round" />
<polyline points="448.1,125.5 450.6,128.6 453.4,127.1 455.6,130.0 458.7,128.7 460.5,131.5 464.0,130.3 465.5,132.9 469.3,131.9 470.5,134.4 474.7,133.5 475.4,135.8 480.0,135.1 480.4,137.3 485.3,136.7 485.4,138.7 490.6,138.3 490.3,140.2 495.9,139.9 495.3,141.6 501.2,141.5 500.3,143.1 506.5,143.1 505.2,144.5 511.8,144.7 510.2,146.0 517.1,146.3 515.2,147.4 522.4,147.9 520.1,148.9 527.8,149.5 525.1,150.3" fill="none" stroke="#3f352c" stroke-width="0.85" stroke-linejoin="round"/>
<polygon points="369.4,155.0 452.8,182.2 452.8,177.8 378.8,155.6" fill="#efe3c8" stroke="#2c2a2a" stroke-width="1.3" stroke-linejoin="round" />
<polyline points="371.5,155.1 379.2,156.2 376.7,156.8 384.1,157.7 382.0,158.5 389.0,159.2 387.2,160.2 393.9,160.7 392.5,161.9 398.8,162.2 397.7,163.6 403.7,163.7 403.0,165.2 408.6,165.2 408.2,166.9 413.5,166.7 413.4,168.6 418.4,168.2 418.7,170.3 423.4,169.7 423.9,172.0 428.3,171.3 429.2,173.7 433.2,172.8 434.4,175.3 438.1,174.3 439.7,177.0 443.0,175.8 444.9,178.7 447.9,177.3 450.2,180.4 452.8,178.8" fill="none" stroke="#3f352c" stroke-width="0.85" stroke-linejoin="round"/>
<polygon points="452.8,182.2 532.5,150.3 523.0,150.3 452.8,177.8" fill="#efe3c8" stroke="#2c2a2a" stroke-width="1.3" stroke-linejoin="round" />
<polyline points="452.8,181.2 455.2,177.8 458.0,179.2 460.0,175.9 463.1,177.1 464.8,174.0 468.3,175.0 469.7,172.1 473.5,173.0 474.5,170.2 478.7,170.9 479.3,168.3 483.8,168.9 484.1,166.4 489.0,166.8 488.9,164.5 494.2,164.7 493.8,162.6 499.4,162.7 498.6,160.7 504.5,160.6 503.4,158.8 509.7,158.5 508.2,156.9 514.9,156.5 513.0,155.0 520.1,154.4 517.9,153.1 525.2,152.4 522.7,151.2 530.4,150.3" fill="none" stroke="#3f352c" stroke-width="0.85" stroke-linejoin="round"/>
<polygon points="450.8,181.5 455.2,181.5 456.8,205.0 452.6,205.4" fill="#e9a9a6" stroke="#2c2a2a" stroke-width="1.0" stroke-linejoin="round" />
<path d="M556.5,424.5 C556,402 569,387.7 585,387.7 C597,387.7 603.5,399 603.5,412 L603.5,429 L592,438 L560,428 Z" fill="#c39a62" stroke="#2c2a2a" stroke-width="1.4" stroke-linecap="round" stroke-linejoin="round" />
<polygon points="557,424 568.3,400.5 580,412.2 578,418 563.5,424.2" fill="#dcc170"/>
<path d="M568.3,400.5 L600,410 M568.3,400.5 L580,412.2 L578,418 L563.5,424.2" fill="none" stroke="#2c2a2a" stroke-width="1.0" stroke-linecap="round" stroke-linejoin="round" />
<path d="M585,387.7 C595,389 600,399 600,412 L600,430" fill="none" stroke="#2c2a2a" stroke-width="0.9" stroke-linecap="round" stroke-linejoin="round" />
<path d="M585,387.7 C597,387.7 603.5,399 603.5,412 L603.5,429 L600,430 L600,412 C600,399 595,389 585,387.7Z" fill="#c8a984"/>
<path d="M585,387.7 C597,387.7 603.5,399 603.5,412 L603.5,429" fill="none" stroke="#2c2a2a" stroke-width="1.3" stroke-linecap="round" stroke-linejoin="round" />
<polygon points="550.7,428.0 592.8,441.8 644.6,415.2 607.4,405.2" fill="none" stroke="#2c2a2a" stroke-width="0" stroke-linejoin="round" />
<polygon points="603.5,406.5 607.4,405.2 644.6,415.2 640.0,417.5 592.8,441.8 592.8,437.0 603.5,430.0" fill="#e6d5a8"/>
<polygon points="558.0,428.5 603.5,430.5 592.8,438.0 575.0,434.0" fill="#efe2b6"/>
<polygon points="550.7,428.0 592.8,441.8 593.6,477.8 551.2,463.5" fill="#da7173" stroke="none" filter="url(#wc2)"/>
<polygon points="550.7,428.0 592.8,441.8 593.6,477.8 551.2,463.5" fill="none" stroke="#2c2a2a" stroke-width="1.6" stroke-linejoin="round"/>
<polygon points="592.8,441.8 644.6,415.2 644.6,450.0 593.6,477.8" fill="#dd7678" stroke="none" filter="url(#wc2)"/>
<polygon points="592.8,441.8 644.6,415.2 644.6,450.0 593.6,477.8" fill="none" stroke="#2c2a2a" stroke-width="1.6" stroke-linejoin="round"/>
<g filter="url(#b15)" opacity=".45"><polygon points="600.0,447.0 638.0,428.0 638.0,442.0 600.0,462.0" fill="#eea5a5"/><polygon points="556.0,438.0 586.0,448.0 586.0,462.0 556.0,452.0" fill="#e89595"/></g>
<polygon points="550.7,428.0 592.8,441.8 592.8,437.0 557.5,428.6" fill="#efe3c8" stroke="#2c2a2a" stroke-width="1.3" stroke-linejoin="round" />
<polyline points="552.2,428.1 558.5,429.1 557.6,429.8 563.4,430.4 563.0,431.5 568.3,431.7 568.4,433.2 573.2,432.9 573.9,434.9 578.1,434.2 579.3,436.5 583.0,435.5 584.7,438.2 587.9,436.8 590.1,439.9 592.8,438.1" fill="none" stroke="#3f352c" stroke-width="0.85" stroke-linejoin="round"/>
<polygon points="592.8,441.8 644.6,415.2 635.0,416.2 592.8,437.0" fill="#efe3c8" stroke="#2c2a2a" stroke-width="1.3" stroke-linejoin="round" />
<polyline points="592.8,440.7 595.0,437.0 597.8,438.2 599.4,434.7 602.7,435.7 603.9,432.5 607.7,433.1 608.3,430.3 612.7,430.6 612.7,428.1 617.6,428.1 617.2,425.9 622.6,425.5 621.6,423.7 627.6,423.0 626.0,421.5 632.6,420.5 630.5,419.3 637.5,418.0 634.9,417.1 642.5,415.4" fill="none" stroke="#3f352c" stroke-width="0.85" stroke-linejoin="round"/>
<polygon points="607.4,405.2 644.6,415.2 635.0,416.2 606.5,409.0" fill="#e6d5b4" stroke="#2c2a2a" stroke-width="1.2" stroke-linejoin="round" />
<polyline points="607.2,406.0 609.0,408.8 612.6,407.5 613.7,410.0 618.1,408.9 618.4,411.2 623.5,410.4 623.1,412.4 628.9,411.8 627.8,413.6 634.3,413.3 632.4,414.8 639.8,414.7 637.1,416.0" fill="none" stroke="#3f352c" stroke-width="0.85" stroke-linejoin="round"/>
<line x1="538.3" y1="132.5" x2="634.5" y2="162.5" stroke="#2c2a2a" stroke-width="1.7" stroke-linecap="round" stroke-dasharray="5 3.5"/>
<polyline points="629.6,157.5 634.5,162.5 627.6,163.9" fill="none" stroke="#2c2a2a" stroke-width="1.7" stroke-linecap="round" stroke-linejoin="round"/>
<polyline points="543.2,137.5 538.3,132.5 545.2,131.1" fill="none" stroke="#2c2a2a" stroke-width="1.7" stroke-linecap="round" stroke-linejoin="round"/>
<line x1="670.8" y1="191.3" x2="670.8" y2="412.3" stroke="#2c2a2a" stroke-width="1.7" stroke-linecap="round" stroke-dasharray="6 4"/>
<polyline points="674.2,406.2 670.8,412.3 667.4,406.2" fill="none" stroke="#2c2a2a" stroke-width="1.7" stroke-linecap="round" stroke-linejoin="round"/>
<polyline points="667.4,197.4 670.8,191.3 674.2,197.4" fill="none" stroke="#2c2a2a" stroke-width="1.7" stroke-linecap="round" stroke-linejoin="round"/>
<line x1="657.0" y1="414.0" x2="684.5" y2="414.0" stroke="#2c2a2a" stroke-width="0.9" stroke-linecap="round" />
<line x1="304.7" y1="426.3" x2="499.8" y2="496.0" stroke="#2c2a2a" stroke-width="1.8" stroke-linecap="round" stroke-dasharray="6 4.5"/>
<polyline points="495.1,490.8 499.8,496.0 492.9,497.1" fill="none" stroke="#2c2a2a" stroke-width="1.8" stroke-linecap="round" stroke-linejoin="round"/>
<polyline points="309.4,431.5 304.7,426.3 311.6,425.2" fill="none" stroke="#2c2a2a" stroke-width="1.8" stroke-linecap="round" stroke-linejoin="round"/>
<line x1="295.3" y1="436.6" x2="304.7" y2="422.1" stroke="#2c2a2a" stroke-width="0.9" stroke-linecap="round" />
<line x1="500.5" y1="503.0" x2="506.0" y2="493.5" stroke="#2c2a2a" stroke-width="0.9" stroke-linecap="round" />
<line x1="614.5" y1="483.5" x2="662.0" y2="458.5" stroke="#2c2a2a" stroke-width="1.7" stroke-linecap="round" stroke-dasharray="5 3.5"/>
<polyline points="655.0,458.4 662.0,458.5 658.1,464.3" fill="none" stroke="#2c2a2a" stroke-width="1.7" stroke-linecap="round" stroke-linejoin="round"/>
<polyline points="621.5,483.6 614.5,483.5 618.4,477.7" fill="none" stroke="#2c2a2a" stroke-width="1.7" stroke-linecap="round" stroke-linejoin="round"/>
<line x1="602.0" y1="483.0" x2="619.5" y2="489.8" stroke="#2c2a2a" stroke-width="0.9" stroke-linecap="round" />
<line x1="655.8" y1="454.8" x2="669.5" y2="460.3" stroke="#2c2a2a" stroke-width="0.9" stroke-linecap="round" />
<line x1="293.5" y1="269.0" x2="293.5" y2="190.0" stroke="#2c2a2a" stroke-width="1.7" stroke-linecap="round" stroke-dasharray="6 4"/>
<polyline points="290.1,196.1 293.5,190.0 296.9,196.1" fill="none" stroke="#2c2a2a" stroke-width="1.7" stroke-linecap="round" stroke-linejoin="round"/>
<line x1="341.0" y1="222.5" x2="338.5" y2="304.0" stroke="#2c2a2a" stroke-width="1.2" stroke-linecap="round" stroke-dasharray="5 3.5"/>
<polyline points="342.0,298.0 338.5,304.0 335.3,297.8" fill="none" stroke="#2c2a2a" stroke-width="1.2" stroke-linecap="round" stroke-linejoin="round"/>
<polyline points="337.5,228.5 341.0,222.5 344.2,228.7" fill="none" stroke="#2c2a2a" stroke-width="1.2" stroke-linecap="round" stroke-linejoin="round"/>
<line x1="341.0" y1="223.0" x2="373.0" y2="210.5" stroke="#2c2a2a" stroke-width="1.1" stroke-linecap="round" stroke-dasharray="5 3.5"/>
<path d="M362,233 C353,242 352,262 357,280 C360,292 366,301 374,308" fill="none" stroke="#2c2a2a" stroke-width="1.3" stroke-linecap="round" stroke-linejoin="round" stroke-dasharray="5 3.5"/>
<path d="M409,322 C425,330 452,350 475,373" fill="none" stroke="#2c2a2a" stroke-width="1.4" stroke-linecap="round" stroke-linejoin="round" stroke-dasharray="5 3.5"/>
<polyline points="473.9,367.6 476.0,374.3 469.2,372.5" fill="none" stroke="#2c2a2a" stroke-width="1.4" stroke-linecap="round" stroke-linejoin="round"/>
<path d="M363.8,373 C364,392 380,412 434,415" fill="none" stroke="#2c2a2a" stroke-width="1.3" stroke-linecap="round" stroke-linejoin="round" stroke-dasharray="5 3.5"/>
<polyline points="430.3,411.9 436.0,415.0 430.3,418.1" fill="none" stroke="#2c2a2a" stroke-width="1.3" stroke-linecap="round" stroke-linejoin="round"/>
<path d="M444.7,423.8 L484,440.5" fill="none" stroke="#2c2a2a" stroke-width="1.3" stroke-linecap="round" stroke-linejoin="round" stroke-dasharray="5 3.5"/>
<polyline points="481.9,436.4 486.0,441.5 479.5,442.2" fill="none" stroke="#2c2a2a" stroke-width="1.3" stroke-linecap="round" stroke-linejoin="round"/>
</g>
<g fill="none" stroke-linecap="round" stroke-linejoin="round" filter="url(#soft)">
<polyline points="97.5,149.2 244,149.5 390.6,258.5" stroke="#c96472" stroke-width="1.7"/>
<circle cx="390.6" cy="258.5" r="4.7" fill="#cf5d68" stroke="none"/>
<line x1="127.5" y1="279.8" x2="357" y2="279.8" stroke="#75839f" stroke-width="1.9"/>
<circle cx="357.2" cy="279.8" r="4.6" fill="#7384ab" stroke="none"/>
<polyline points="115,402 426,402 447.2,376.8" stroke="#d9ba62" stroke-width="2.2"/>
<circle cx="447.2" cy="376.8" r="4.7" fill="#ddb94f" stroke="none"/>
<line x1="598.8" y1="327.8" x2="709" y2="327.8" stroke="#75839f" stroke-width="1.9"/>
<circle cx="598.8" cy="327.8" r="4.8" fill="#7384ab" stroke="none"/>
</g>
</svg>
<h1>【自作派】失敗しないマシンの作り方</h1>
<div class="blk" style="left:26.5px;top:139px"><span class="h c1" style="margin-bottom:2px">心臓部：</span><span class="l">500ml</span>ペットボトルにカプセル<br>が入る穴（約<span class="l">6cm</span>四方）を開け<br>て回転軸にする。</div>
<div class="blk" style="left:26.5px;top:270.5px"><span class="h c2" style="margin-bottom:1.5px">詰まり防止：</span>穴はカプセル直径より数ミリ大<br>きく。「わずかなクリアランス（隙<br>間）」がスムーズな回転の鍵。</div>
<div class="blk" style="left:26.5px;top:393.5px"><span class="h c3" style="position:relative;top:-1.5px">音の演出：</span><span style="letter-spacing:.36px">内部にスロープ（坂）を作り、カ</span><br>プセルが転がる「コロン」という<br>音を響かせる。</div>
<div class="blk" style="left:717px;top:318.5px"><span class="h c2">のぞき窓：</span>クリアファイルを貼り、中身が<br>見えるワクワク感を演出。</div>
</body>
</html>
